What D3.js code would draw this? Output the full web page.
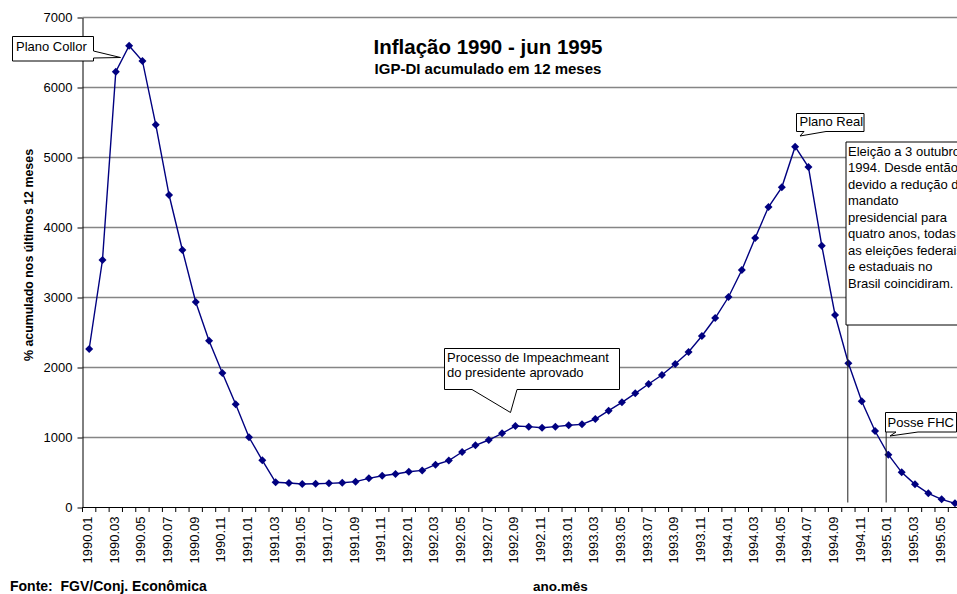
<!DOCTYPE html>
<html>
<head>
<meta charset="utf-8">
<script src="https://cdn.jsdelivr.net/npm/d3@7"></script>
<style>
  html, body { margin: 0; padding: 0; background: #fff; overflow: hidden; }
  svg { display: block; font-family: "Liberation Sans", Arial, sans-serif; }
</style>
</head>
<body>
<svg id="chart" width="957" height="594"></svg>
<script>
// IGP-DI, % acumulado nos últimos 12 meses, por mês
const meses1990 = ["1990.01","1990.02","1990.03","1990.04","1990.05","1990.06","1990.07","1990.08","1990.09","1990.10","1990.11","1990.12"];
const meses1991 = ["1991.01","1991.02","1991.03","1991.04","1991.05","1991.06","1991.07","1991.08","1991.09","1991.10","1991.11","1991.12"];
const meses1992 = ["1992.01","1992.02","1992.03","1992.04","1992.05","1992.06","1992.07","1992.08","1992.09","1992.10","1992.11","1992.12"];
const meses1993 = ["1993.01","1993.02","1993.03","1993.04","1993.05","1993.06","1993.07","1993.08","1993.09","1993.10","1993.11","1993.12"];
const meses1994 = ["1994.01","1994.02","1994.03","1994.04","1994.05","1994.06","1994.07","1994.08","1994.09","1994.10","1994.11","1994.12"];
const meses1995 = ["1995.01","1995.02","1995.03","1995.04","1995.05","1995.06"];

const igp1990 = [2264, 3536, 6226, 6597, 6379, 5469, 4464, 3679, 2936, 2383, 1921, 1474];
const igp1991 = [1003, 674, 360, 350, 336, 340, 345, 354, 369, 417, 454, 479];
const igp1992 = [511, 530, 611, 670, 793, 889, 964, 1060, 1164, 1155, 1140, 1155];
const igp1993 = [1174, 1188, 1264, 1383, 1502, 1631, 1764, 1893, 2050, 2221, 2450, 2707];
const igp1994 = [3007, 3393, 3850, 4293, 4574, 5154, 4864, 3740, 2750, 2060, 1517, 1093];
const igp1995 = [755, 502, 331, 202, 117, 60];

const yTicks = [0, 1000, 2000, 3000, 4000, 5000, 6000, 7000];

const categorias = [].concat(meses1990, meses1991, meses1992, meses1993, meses1994, meses1995);
const valores = [].concat(igp1990, igp1991, igp1992, igp1993, igp1994, igp1995);
const serie = categorias.map((c, i) => ({ mes: c, v: valores[i] }));

const svg = d3.select("#chart");
const FONT = "'Liberation Sans', Arial, sans-serif";

const plotLeft = 82.5, plotTop = 17.5, plotBottom = 507.5, passo = 13.32;
const x = d3.scaleBand().domain(categorias).range([plotLeft, plotLeft + passo * categorias.length]).padding(0);
const y = d3.scaleLinear().domain([0, 7000]).range([plotBottom, plotTop]);
const cx = d => x(d) + x.bandwidth() / 2;

// grade horizontal
svg.append("g").selectAll("line").data(yTicks.filter(t => t > 0)).join("line")
  .attr("x1", plotLeft).attr("x2", 957)
  .attr("y1", d => y(d)).attr("y2", d => y(d))
  .attr("stroke", "#858585").attr("stroke-width", 1.6);

// eixo Y
const yAxis = svg.append("g").attr("transform", `translate(${plotLeft},0)`)
  .call(d3.axisLeft(y).tickValues(yTicks).tickSize(5).tickSizeOuter(0).tickPadding(5).tickFormat(d3.format("d")));
yAxis.select(".domain").attr("stroke", "#000");
yAxis.selectAll(".tick line").attr("stroke", "#000");
yAxis.selectAll("text").attr("font-family", FONT).attr("font-size", 13).attr("fill", "#000");

// eixo X: marcas nas divisões entre categorias
const xg = svg.append("g");
xg.append("line").attr("x1", plotLeft).attr("x2", 957).attr("y1", plotBottom).attr("y2", plotBottom)
  .attr("stroke", "#000").attr("stroke-width", 1);
xg.selectAll("line.tk").data(categorias).join("line").attr("class", "tk")
  .attr("x1", d => x(d)).attr("x2", d => x(d))
  .attr("y1", plotBottom).attr("y2", plotBottom + 4.5)
  .attr("stroke", "#000");
xg.selectAll("text.lb").data(categorias.filter((d, i) => i % 2 === 0)).join("text").attr("class", "lb")
  .attr("transform", d => `translate(${cx(d) + 3},${plotBottom + 9}) rotate(-90)`)
  .attr("text-anchor", "end")
  .attr("font-family", FONT).attr("font-size", 13).attr("fill", "#000")
  .text(d => d);

// título do eixo Y
svg.append("text")
  .attr("transform", `translate(33,255) rotate(-90)`)
  .attr("text-anchor", "middle")
  .attr("font-family", FONT).attr("font-size", 12.4).attr("font-weight", "bold")
  .text("% acumulado nos últimos 12 meses");

// títulos
svg.append("text").attr("x", 488).attr("y", 54).attr("text-anchor", "middle")
  .attr("font-family", FONT).attr("font-size", 20.5).attr("font-weight", "bold")
  .text("Inflação 1990 - jun 1995");
svg.append("text").attr("x", 488).attr("y", 74).attr("text-anchor", "middle")
  .attr("font-family", FONT).attr("font-size", 15).attr("font-weight", "bold")
  .text("IGP-DI acumulado em 12 meses");

// rodapé
svg.append("text").attr("x", 10).attr("y", 591)
  .attr("font-family", FONT).attr("font-size", 14).attr("font-weight", "bold")
  .attr("xml:space", "preserve").style("white-space", "pre")
  .text("Fonte:  FGV/Conj. Econômica");
svg.append("text").attr("x", 533).attr("y", 591)
  .attr("font-family", FONT).attr("font-size", 13.5).attr("font-weight", "bold")
  .text("ano.mês");

// série
const linha = d3.line().x(d => cx(d.mes)).y(d => y(d.v));
svg.append("path").datum(serie).attr("d", linha)
  .attr("fill", "none").attr("stroke", "#000080").attr("stroke-width", 1.4);
svg.append("g").selectAll("path").data(serie).join("path")
  .attr("transform", d => `translate(${cx(d.mes)},${y(d.v)})`)
  .attr("d", "M0,-4L4,0L0,4L-4,0Z")
  .attr("fill", "#000080");

// linhas de chamada verticais
const chamadaLinha = (mes, dx, y0) => svg.append("line")
  .attr("x1", cx(mes) + dx).attr("x2", cx(mes) + dx)
  .attr("y1", y0).attr("y2", plotBottom - 5)
  .attr("stroke", "#222").attr("stroke-width", 1);
chamadaLinha("1994.10", -0.6, 325);
chamadaLinha("1995.01", -2.2, 432);

// balões de texto com ponteiro
function balao(r, ponteiro, linhas, opts) {
  const { x0, y0, x1, y1 } = r;
  let d;
  if (!ponteiro) {
    d = `M${x0},${y0}H${x1}V${y1}H${x0}Z`;
  } else if (ponteiro.lado === "right") {
    d = `M${x0},${y0}H${x1}V${ponteiro.a}L${ponteiro.tx},${ponteiro.ty}L${x1},${ponteiro.b}V${y1}H${x0}Z`;
  } else {
    d = `M${x0},${y0}H${x1}V${y1}H${ponteiro.b}L${ponteiro.tx},${ponteiro.ty}L${ponteiro.a},${y1}H${x0}Z`;
  }
  svg.append("path").attr("d", d).attr("fill", "#fff").attr("stroke", "#000").attr("stroke-width", 1);
  const t = svg.append("text").attr("font-family", FONT).attr("font-size", 13).attr("fill", "#000");
  linhas.forEach((l, i) => t.append("tspan").attr("x", opts.tx).attr("y", opts.ty + i * opts.lh).text(l));
}

balao({ x0: 12.5, y0: 36.5, x1: 93.5, y1: 61 }, { lado: "right", a: 51, b: 58, tx: 120.5, ty: 57.5 },
  ["Plano Collor"], { tx: 16, ty: 51, lh: 15 });
balao({ x0: 796.5, y0: 113.5, x1: 864, y1: 131.5 }, { lado: "bottom", a: 804, b: 826, tx: 800, ty: 136 },
  ["Plano Real"], { tx: 799.5, ty: 126, lh: 15 });
balao({ x0: 444.5, y0: 348.5, x1: 619.5, y1: 389.5 }, { lado: "bottom", a: 472, b: 517, tx: 510.5, ty: 412.5 },
  ["Processo de Impeachmeant", "do presidente aprovado"], { tx: 447, ty: 362, lh: 15 });
balao({ x0: 885.5, y0: 412.5, x1: 956.5, y1: 432 }, { lado: "bottom", a: 896, b: 918, tx: 890, ty: 436 },
  ["Posse FHC"], { tx: 887.5, ty: 426.5, lh: 15 });
balao({ x0: 846, y0: 142, x1: 990, y1: 325 }, null,
  ["Eleição a 3 outubro de", "1994. Desde então,", "devido a redução do", "mandato", "presidencial para",
   "quatro anos, todas", "as eleições federais", "e estaduais no", "Brasil coincidiram."],
  { tx: 848, ty: 155.5, lh: 16.5 });
</script>
</body>
</html>
